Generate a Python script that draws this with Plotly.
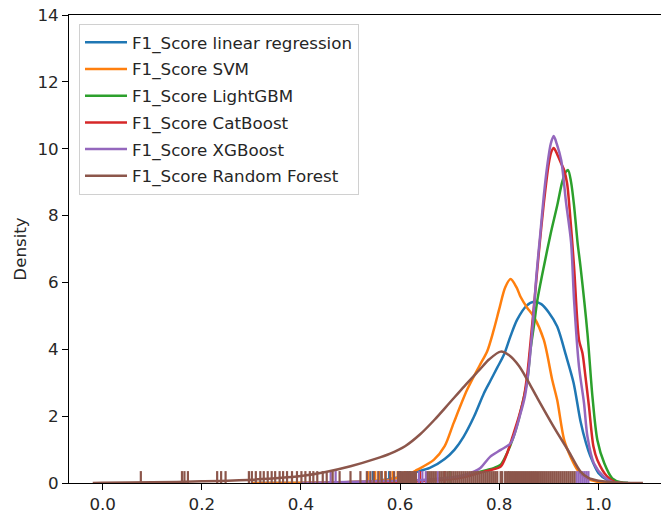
import plotly.graph_objects as go

# ---------------- data ----------------
names = ["F1_Score linear regression", "F1_Score SVM", "F1_Score LightGBM",
         "F1_Score CatBoost", "F1_Score XGBoost", "F1_Score Random Forest"]
colors = ["#1f77b4", "#ff7f0e", "#2ca02c", "#d62728", "#9467bd", "#8c564b"]

lr_x = [0.30, 0.45, 0.55, 0.60, 0.63, 0.66, 0.69, 0.71, 0.728, 0.749, 0.769, 0.782, 0.796, 0.81,
        0.823, 0.836, 0.855, 0.870, 0.885, 0.90, 0.917, 0.935, 0.95, 0.964, 0.975, 0.984, 1.0, 1.018, 1.04, 1.06]
lr_y = [0.0, 0.01, 0.06, 0.18, 0.32, 0.45, 0.72, 1.0, 1.38, 1.98, 2.68, 3.05, 3.45, 3.85,
        4.4, 4.88, 5.3, 5.42, 5.35, 5.1, 4.68, 3.8, 3.0, 1.85, 1.2, 0.8, 0.3, 0.09, 0.01, 0.0]

svm_x = [0.30, 0.40, 0.50, 0.58, 0.62, 0.634, 0.668, 0.69, 0.708, 0.735, 0.76, 0.776, 0.789, 0.80,
         0.812, 0.823, 0.835, 0.843, 0.856, 0.870, 0.890, 0.907, 0.917, 0.931, 0.945, 0.958, 0.975, 1.0, 1.03]
svm_y = [0.0, 0.01, 0.03, 0.1, 0.28, 0.39, 0.69, 1.1, 1.79, 2.78, 3.5, 3.95, 4.58, 5.2,
         5.85, 6.1, 5.85, 5.57, 5.25, 4.97, 4.28, 3.08, 2.48, 1.29, 0.75, 0.39, 0.15, 0.03, 0.0]

lgbm_x = [0.45, 0.55, 0.65, 0.72, 0.76, 0.776, 0.79, 0.803, 0.816, 0.829, 0.840, 0.850, 0.857, 0.863,
          0.870, 0.877, 0.890, 0.904, 0.917, 0.927, 0.934, 0.939, 0.945, 0.951, 0.958, 0.964, 0.978,
          0.988, 0.998, 1.012, 1.028, 1.045, 1.06]
lgbm_y = [0.0, 0.02, 0.08, 0.2, 0.33, 0.39, 0.45, 0.55, 0.9, 1.39, 1.95, 2.58, 3.1, 3.98,
          4.7, 5.47, 6.47, 7.47, 8.3, 9.0, 9.3, 9.36, 9.0, 8.3, 7.2, 6.47, 4.48,
          2.6, 1.29, 0.59, 0.14, 0.02, 0.0]

cat_x = [0.45, 0.55, 0.65, 0.72, 0.76, 0.783, 0.803, 0.816, 0.829, 0.840, 0.850, 0.857, 0.865, 0.872,
         0.880, 0.890, 0.900, 0.905, 0.910, 0.915, 0.925, 0.931, 0.937, 0.942, 0.951, 0.961, 0.968,
         0.974, 0.981, 0.990, 0.998, 1.018, 1.035, 1.05]
cat_y = [0.0, 0.02, 0.06, 0.15, 0.3, 0.39, 0.49, 0.89, 1.48, 2.0, 2.58, 3.3, 4.5, 5.6,
         6.9, 8.37, 9.56, 9.9, 10.02, 9.9, 9.56, 9.36, 8.96, 8.2, 6.47, 4.28, 3.88,
         3.18, 2.3, 1.1, 0.69, 0.19, 0.02, 0.0]

xgb_x = [0.40, 0.47, 0.55, 0.65, 0.72, 0.75, 0.762, 0.782, 0.803, 0.823, 0.843, 0.852, 0.860, 0.868,
         0.875, 0.883, 0.890, 0.897, 0.904, 0.910, 0.916, 0.925, 0.935, 0.945, 0.951, 0.961, 0.971,
         0.978, 0.991, 1.011, 1.03, 1.045]
xgb_y = [0.0, 0.02, 0.05, 0.1, 0.2, 0.35, 0.45, 0.79, 0.99, 1.19, 2.08, 2.6, 3.48, 4.8,
         6.2, 7.47, 8.6, 9.5, 10.15, 10.38, 10.15, 9.66, 8.37, 7.2, 5.47, 3.48, 2.4,
         1.39, 0.59, 0.19, 0.02, 0.0]

rf_x = [-0.02, 0.0, 0.1, 0.2, 0.3, 0.4, 0.45, 0.5, 0.55, 0.58, 0.61, 0.64, 0.67, 0.70, 0.73, 0.76,
        0.78, 0.803, 0.82, 0.84, 0.857, 0.877, 0.91, 0.94, 0.964, 0.98, 1.0, 1.05, 1.09]
rf_y = [0.0, 0.005, 0.02, 0.05, 0.1, 0.21, 0.33, 0.5, 0.72, 0.88, 1.1, 1.45, 1.9, 2.4, 2.9, 3.38,
        3.7, 3.93, 3.82, 3.5, 3.08, 2.54, 1.68, 0.95, 0.34, 0.15, 0.07, 0.01, 0.0]

# rug (raw observations visible as ticks)
lr_rug = [0.545, 0.562, 0.578, 0.600, 0.615, 0.630]
svm_rug = [0.535, 0.550, 0.558, 0.570, 0.585, 0.595, 0.610, 0.626]
lgbm_rug = [0.620, 0.700]
cat_rug = [0.640, 0.690]
xgb_rug = [0.460, 0.470, 0.638, 0.645, 0.652, 0.676, 0.956, 0.960, 0.964, 0.968, 0.972, 0.976, 0.980]
rf_rug = [0.077, 0.160, 0.165, 0.172, 0.231, 0.239, 0.248, 0.295, 0.301, 0.309, 0.318, 0.325, 0.333,
          0.341, 0.348, 0.357, 0.364, 0.372, 0.382, 0.392, 0.401, 0.409, 0.418, 0.425, 0.433, 0.444,
          0.452, 0.464, 0.478, 0.500, 0.520, 0.533, 0.540, 0.547, 0.556, 0.563, 0.571, 0.580, 0.588,
          0.596, 0.600, 0.604, 0.608, 0.612, 0.616, 0.620, 0.624, 0.628, 0.632, 0.656, 0.660, 0.664,
          0.668, 0.672, 0.680, 0.684, 0.688, 0.692, 0.696, 0.700, 0.704, 0.708, 0.712, 0.716, 0.720,
          0.724, 0.728, 0.732, 0.736, 0.740, 0.744, 0.748, 0.752, 0.756, 0.760, 0.764, 0.768, 0.772,
          0.776, 0.780, 0.784, 0.788, 0.792, 0.796, 0.803, 0.806, 0.812, 0.816, 0.820, 0.824, 0.828,
          0.832, 0.836, 0.840, 0.844, 0.848, 0.852, 0.856, 0.860, 0.864, 0.868, 0.872, 0.876, 0.880,
          0.884, 0.888, 0.892, 0.896, 0.900, 0.904, 0.908, 0.912, 0.916, 0.920, 0.924, 0.928, 0.932,
          0.936, 0.940, 0.944, 0.948, 0.952]

x_ticks = [0.0, 0.2, 0.4, 0.6, 0.8, 1.0]
x_tick_labels = ["0.0", "0.2", "0.4", "0.6", "0.8", "1.0"]
y_ticks = [0, 2, 4, 6, 8, 10, 12, 14]
y_tick_labels = ["0", "2", "4", "6", "8", "10", "12", "14"]

curves = [(lr_x, lr_y), (svm_x, svm_y), (lgbm_x, lgbm_y), (cat_x, cat_y), (xgb_x, xgb_y), (rf_x, rf_y)]
rugs = [lr_rug, svm_rug, lgbm_rug, cat_rug, xgb_rug, rf_rug]

# ---------------- figure ----------------
FONT = "DejaVu Sans"
FS = 16.7
fig = go.Figure()
for i, (name, col) in enumerate(zip(names, colors)):
    cx, cy = curves[i]
    fig.add_trace(go.Scatter(x=cx, y=cy, mode="lines", name=name, legendgroup=name,
                             line=dict(color=col, width=2.5, shape="spline", smoothing=0.8)))
    fig.add_trace(go.Scatter(x=rugs[i], y=[0] * len(rugs[i]), mode="markers", showlegend=False,
                             legendgroup=name, hoverinfo="x",
                             marker=dict(symbol="line-ns", size=17, color=col,
                                         line=dict(color=col, width=2.2))))

fig.update_layout(
    width=661, height=513,
    margin=dict(l=69, r=0, t=15, b=30),
    paper_bgcolor="white", plot_bgcolor="white",
    font=dict(family=FONT, size=FS, color="#262626"),
    showlegend=True,
    legend=dict(x=0.0169, y=0.981, xanchor="left", yanchor="top",
                bgcolor="rgba(255,255,255,0.8)", bordercolor="#d0d0d0", borderwidth=1,
                font=dict(family=FONT, size=FS, color="#262626"),
                itemwidth=42, tracegroupgap=2),
    xaxis=dict(range=[-0.0679, 1.1264], tickmode="array", tickvals=x_ticks, ticktext=x_tick_labels,
               showgrid=False, zeroline=False, showline=True, linecolor="black", linewidth=1.1,
               mirror=True, ticks="outside", ticklen=6, tickwidth=1.1, tickcolor="black",
               tickfont=dict(family=FONT, size=FS, color="#262626")),
    yaxis=dict(range=[0, 14], tickmode="array", tickvals=y_ticks, ticktext=y_tick_labels,
               showgrid=False, zeroline=False, showline=True, linecolor="black", linewidth=1.1,
               ticks="outside", ticklen=6, tickwidth=1.1, tickcolor="black",
               tickfont=dict(family=FONT, size=FS, color="#262626"),
               title=dict(text="Density", standoff=6, font=dict(family=FONT, size=FS, color="#262626"))),
)

fig.write_html("out.html", config={"displayModeBar": False},
               post_script="document.body.style.margin='0';document.body.style.padding='0';"
                           "document.body.style.overflow='hidden';")
